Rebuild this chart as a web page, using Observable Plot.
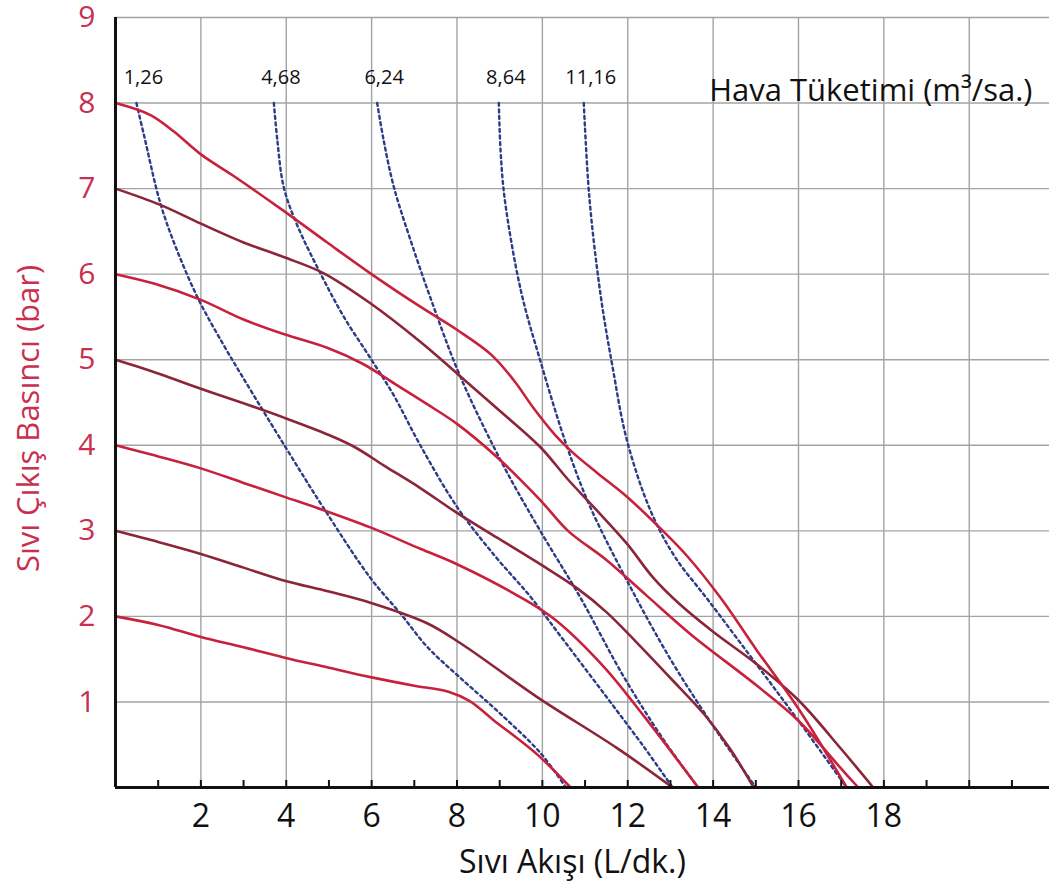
<!DOCTYPE html>
<html><head><meta charset="utf-8">
<script src="https://cdn.jsdelivr.net/npm/d3@7"></script>
<script src="https://cdn.jsdelivr.net/npm/@observablehq/plot@0.6"></script>
<style>body{margin:0;background:#fff} svg{display:block}</style>
</head><body><div id="chart"></div>
<script>
// Liquid outlet pressure curves (flow L/min, pressure bar)
const curve8 = [[0,8],[0.82,7.86],[1.36,7.67],[2,7.4],[2.76,7.15],[3.94,6.74],[4.96,6.37],[5.97,6.01],[7.14,5.62],[8,5.35],[8.8,5.06],[9.33,4.76],[9.8,4.43],[10.3,4.12],[10.7,3.92],[11.3,3.67],[12,3.39],[12.76,3.03],[13.4,2.7],[14.2,2.2],[15,1.62],[16,0.92],[17.13,0]];
const curve7 = [[0,7],[1.05,6.81],[2,6.59],[3,6.37],[3.94,6.2],[4.88,6.01],[5.97,5.66],[7.14,5.21],[8,4.84],[8.94,4.43],[9.95,3.98],[10.6,3.6],[11.2,3.28],[11.98,2.85],[12.6,2.45],[13.2,2.15],[14,1.82],[15,1.45],[16,1.02],[17,0.45],[17.75,0]];
const curve6 = [[0,6],[0.9,5.89],[2,5.7],[3,5.47],[3.94,5.3],[4.96,5.14],[5.8,4.95],[6.6,4.7],[7.3,4.48],[8,4.25],[8.94,3.86],[9.95,3.36],[10.6,3.0],[11.5,2.66],[12.45,2.24],[13.5,1.78],[15,1.2],[16,0.78],[17,0.22],[17.4,0]];
const curve5 = [[0,5],[1,4.84],[2,4.66],[3,4.49],[3.96,4.32],[5.0,4.12],[5.6,3.98],[6.3,3.76],[7.14,3.5],[8,3.21],[8.94,2.92],[9.95,2.61],[10.81,2.33],[11.5,2.05],[12.2,1.7],[13,1.28],[13.8,0.85],[14.4,0.45],[14.95,0]];
const curve4 = [[0,4],[1,3.87],[2,3.73],[3,3.56],[3.94,3.4],[4.88,3.24],[5.97,3.04],[7.14,2.79],[8,2.61],[9.5,2.22],[10.3,1.96],[11.44,1.41],[12.37,0.84],[13.65,0]];
const curve3 = [[0,3],[1,2.87],[2,2.73],[3,2.57],[3.94,2.42],[5,2.29],[5.97,2.16],[7.3,1.92],[8.1,1.68],[9.87,1.06],[11.75,0.46],[13.05,0]];
const curve2 = [[0,2],[1,1.9],[2,1.76],[3,1.64],[3.94,1.52],[5,1.4],[5.97,1.29],[7.0,1.19],[7.8,1.12],[8.3,1.01],[8.85,0.79],[9.87,0.39],[10.66,0]];

// Air consumption iso-lines (m3/h)
const air126 = [[0.49,8],[0.66,7.64],[1.05,6.83],[1.44,6.28],[1.95,5.7],[2.5,5.2],[3.0,4.78],[3.98,3.98],[4.87,3.27],[5.97,2.45],[6.68,2.03],[7.31,1.64],[8.08,1.28],[9.02,0.86],[9.96,0.4],[10.55,0]];
const air468 = [[3.71,8],[3.79,7.57],[3.94,7.02],[4.25,6.58],[4.8,6.01],[5.35,5.5],[5.97,5.02],[6.5,4.6],[7.14,4.0],[8,3.28],[8.9,2.7],[9.72,2.23],[10.5,1.72],[11.5,1.06],[12.4,0.46],[13.05,0]];
const air624 = [[6.13,8],[6.28,7.57],[6.52,7.02],[6.91,6.4],[7.38,5.72],[8.08,4.8],[9.09,3.76],[9.95,3.0],[10.89,2.22],[11.9,1.3],[12.85,0.55],[13.65,0]];
const air864 = [[8.98,8],[9.02,7.45],[9.12,6.87],[9.5,5.8],[9.95,4.99],[10.58,3.98],[11.12,3.28],[11.98,2.42],[13.0,1.5],[14.0,0.72],[15.0,0]];
const air1116 = [[10.97,8],[11.1,6.9],[11.36,5.77],[11.65,4.9],[11.98,4.06],[12.53,3.24],[13.1,2.7],[13.9,2.18],[15.0,1.45],[16.0,0.78],[17.13,0]];

const liquidNames = ["8 bar","7 bar","6 bar","5 bar","4 bar","3 bar","2 bar"];
const liquidSeries = [curve8, curve7, curve6, curve5, curve4, curve3, curve2];
const liquidTone = ["bright","dark","bright","dark","bright","dark","bright"];
const airLabels = ["1,26","4,68","6,24","8,64","11,16"];
const airSeries = [air126, air468, air624, air864, air1116];

const xTickLabels = [2,4,6,8,10,12,14,16,18];
const xMinorTicks = d3.range(1, 22);
const xGrid = [2,4,6,8,10,12,14,16,18,20,22];
const yTicks = [1,2,3,4,5,6,7,8,9];

const title = "Hava Tüketimi (m³/sa.)";
const xTitle = "Sıvı Akışı (L/dk.)";
const yTitle = "Sıvı Çıkış Basıncı (bar)";

// build tables
const liquidRows = liquidSeries.flatMap((s, i) => s.map(([f, p]) => ({series: liquidNames[i], tone: liquidTone[i], flow: f, p})));
const airRows = airSeries.flatMap((s, i) => s.map(([f, p]) => ({series: airLabels[i], flow: f, p})));
const airLabelRows = airSeries.map((s, i) => ({text: airLabels[i], flow: s[0][0], p: s[0][1]}));

const RED = "#c8213d";
const DARK = "#8c2538";
const AXISRED = "#c9304f";
const FONT = "'Open Sans', 'Noto Sans', sans-serif";

const chart = Plot.plot({
  width: 1049,
  height: 895,
  marginLeft: 115,
  marginRight: 0,
  marginTop: 17,
  marginBottom: 108,
  style: {fontFamily: FONT, background: "#fff"},
  x: {domain: [0, 21.88]},
  y: {domain: [0, 9]},
  marks: [
    Plot.gridX(xGrid, {stroke: "#a3a3a3", strokeOpacity: 1, strokeWidth: 1.4}),
    Plot.gridY(yTicks, {stroke: "#a3a3a3", strokeOpacity: 1, strokeWidth: 1.4}),
    Plot.line(airRows, {x: "flow", y: "p", z: "series", stroke: "#2e3b86", strokeWidth: 2.4, strokeDasharray: "3,3.5", curve: "catmull-rom"}),
    Plot.line(liquidRows.filter(d => d.tone === "dark"), {x: "flow", y: "p", z: "series", stroke: DARK, strokeWidth: 2.6, curve: "catmull-rom"}),
    Plot.line(liquidRows.filter(d => d.tone === "bright"), {x: "flow", y: "p", z: "series", stroke: RED, strokeWidth: 2.6, curve: "catmull-rom"}),
    Plot.ruleX([0], {stroke: "#111", strokeWidth: 3}),
    Plot.ruleY([0], {stroke: "#111", strokeWidth: 3}),
    Plot.ruleX(xMinorTicks, {x: d => d, y1: 0, y2: 0, insetBottom: 7, stroke: "#111", strokeWidth: 2}),
    Plot.axisX(xTickLabels, {tickSize: 0, tickPadding: 17, fontSize: 32, fill: "#111", label: null, tickFormat: "d"}),
    Plot.axisY(yTicks, {tickSize: 0, tickPadding: 20, fontSize: 30, fill: AXISRED, label: null, tickFormat: "d"}),
    Plot.text([xTitle], {frameAnchor: "bottom", dx: -10, dy: 85, fontSize: 32, fill: "#111"}),
    Plot.text([yTitle], {frameAnchor: "left", dx: -86, dy: 16, rotate: -90, textAnchor: "middle", fontSize: 31, fill: AXISRED}),
    Plot.text([title], {frameAnchor: "top-right", dx: -17, dy: 61, textAnchor: "end", fontSize: 31, fill: "#111"}),
    Plot.text(airLabelRows, {x: "flow", y: "p", text: "text", dy: -25, dx: 7, fontSize: 20, fill: "#111"})
  ]
});
document.getElementById("chart").appendChild(chart);
</script>
</body></html>
